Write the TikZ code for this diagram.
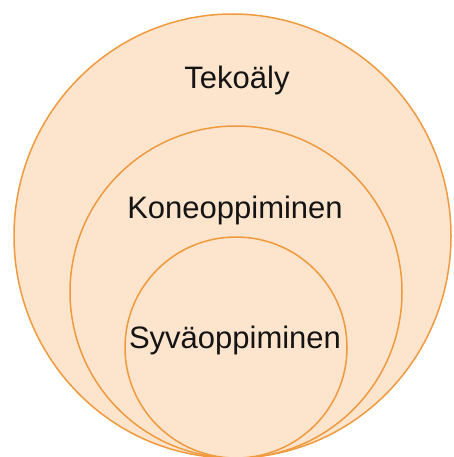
\documentclass[tikz,border=0pt]{standalone}
\usepackage{fontspec}
\setmainfont{Liberation Sans}
\definecolor{ringfill}{HTML}{FDE4CD}
\definecolor{ringline}{HTML}{F09A3E}
\begin{document}
\begin{tikzpicture}[x=1pt,y=-1pt,
  ring/.style={draw=ringline,fill=ringfill,line width=1.5pt},
  lbl/.style={font=\fontsize{31}{35}\selectfont,text=black!92,inner sep=0pt,anchor=base}]
\useasboundingbox (0,0) rectangle (453,457);
\fill[white] (0,0) rectangle (453,457);
\draw[ring] (232.5,236) ellipse [x radius=218.5, y radius=222];
\draw[ring] (236,292) ellipse [x radius=166, y radius=166];
\draw[ring] (236,347.5) ellipse [x radius=111, y radius=110.5];
\node[lbl] (ai) at (237,89) {Tekoäly};
\node[lbl] (ml) at (235,218) {Koneoppiminen};
\node[lbl] (dl) at (235,348) {Syväoppiminen};
\end{tikzpicture}
\end{document}
